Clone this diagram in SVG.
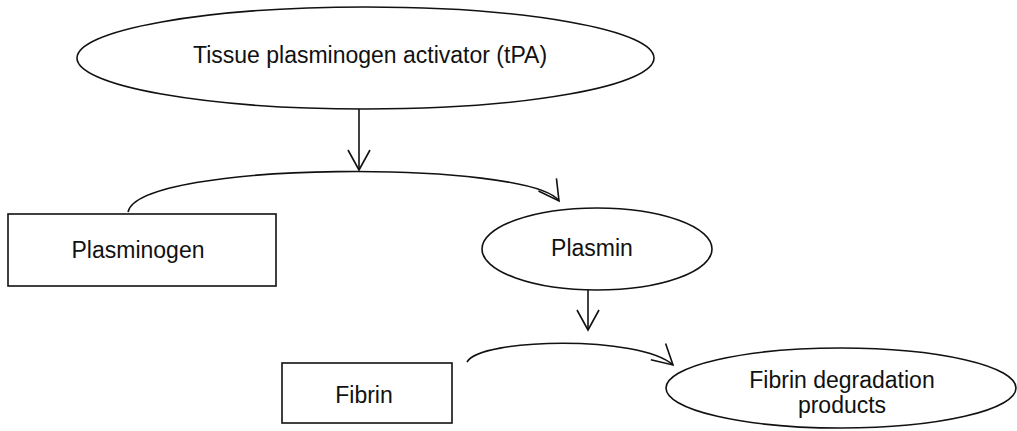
<svg xmlns="http://www.w3.org/2000/svg" width="1017" height="431" viewBox="0 0 1017 431">
<defs>
<style>
.shape{fill:none;stroke:#111;stroke-width:1.6}
.conn{fill:none;stroke:#111;stroke-width:1.6}
.lbl{font-family:"Liberation Sans",Arial,sans-serif;font-size:23px;fill:#111;text-anchor:middle}
</style>
<marker id="open" markerUnits="userSpaceOnUse" viewBox="-22 -13 24 26" markerWidth="24" markerHeight="26" refX="0" refY="0" orient="auto">
<path d="M-20,-11 L0,0 L-20,11" fill="none" stroke="#111" stroke-width="1.6"/>
</marker>
</defs>
<rect width="1017" height="431" fill="#fff"/>
<g id="tpa">
<ellipse class="shape" cx="365.5" cy="58" rx="288.5" ry="51"/>
<text class="lbl" x="370" y="63">Tissue plasminogen activator (tPA)</text>
</g>
<g id="plasminogen">
<rect class="shape" x="8" y="214" width="268" height="72"/>
<text class="lbl" x="138" y="258">Plasminogen</text>
</g>
<g id="plasmin">
<ellipse class="shape" cx="597" cy="249" rx="115" ry="41"/>
<text class="lbl" x="592" y="256">Plasmin</text>
</g>
<g id="fibrin">
<rect class="shape" x="282" y="363" width="170" height="60"/>
<text class="lbl" x="364" y="403">Fibrin</text>
</g>
<g id="fdp">
<ellipse class="shape" cx="841" cy="388" rx="175" ry="40"/>
<text class="lbl" x="842" y="388">Fibrin degradation</text>
<text class="lbl" x="842" y="413">products</text>
</g>
<g id="connectors">
<path class="conn" d="M359,109 L359,170" marker-end="url(#open)"/>
<path class="conn" d="M128,212 C140,160 530,160 559,201" marker-end="url(#open)"/>
<path class="conn" d="M588,290 L588,330" marker-end="url(#open)"/>
<path class="conn" d="M467,362 C480,338 640,335 673,365" marker-end="url(#open)"/>
</g>
</svg>
